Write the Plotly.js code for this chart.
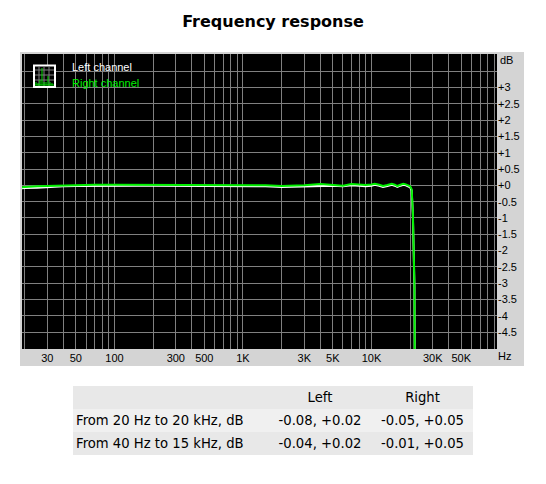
<!DOCTYPE html>
<html>
<head>
<meta charset="utf-8">
<script src="https://cdn.plot.ly/plotly-3.0.1.min.js"></script>
<style>
html,body{margin:0;padding:0;background:#fff;overflow:hidden}
#chart{position:absolute;left:0;top:0;width:546px;height:484px}
#stats{position:absolute;left:73px;top:386px;width:400px;border-collapse:collapse;table-layout:fixed;font:13.2px "DejaVu Sans",sans-serif;color:#000}
#stats td,#stats th{height:23px;padding:0;font-weight:normal;text-align:center;white-space:nowrap}
#stats td:first-child,#stats th:first-child{text-align:left;padding-left:3px}
</style>
</head>
<body>
<div id="chart"></div>
<table id="stats"></table>
<script>
var freq = [19,20,25,30,40,50,70,100,150,200,300,500,700,1000,1500,2000,3000,4000,5000,6000,7000,8000,9000,10000,10600,11500,12300,13300,14400,15200,15900,16800,17700,18500,19300,20000,20560,21000,21600,22000,22500];
var leftDb = [-0.09,-0.08,-0.07,-0.05,-0.03,-0.02,-0.01,-0.01,-0.01,-0.01,-0.01,-0.01,-0.02,-0.02,-0.03,-0.05,-0.03,0.0,-0.01,-0.03,0.0,-0.01,-0.03,-0.01,0.02,-0.01,-0.05,-0.02,0.02,-0.01,-0.05,-0.01,0.02,0.0,-0.03,-0.06,-0.16,-0.9,-3.1,-5.2,-20];
var rightDb = [-0.06,-0.05,-0.03,-0.02,0.0,0.01,0.02,0.02,0.02,0.02,0.02,0.02,0.01,0.01,0.0,-0.02,0.0,0.04,0.02,-0.01,0.04,0.03,0.01,0.03,0.05,0.02,-0.02,0.01,0.05,0.02,-0.02,0.02,0.05,0.03,0.0,-0.03,-0.12,-0.8,-3.0,-5.0,-20];

var xGridVals = [20,30,40,50,60,70,80,90,100,200,300,400,500,600,700,800,900,1000,2000,3000,4000,5000,6000,7000,8000,9000,10000,20000,30000,40000,50000,60000,70000,80000,90000];
var xGridText = ['','30','','50','','','','','100','','300','','500','','','','','1K','','3K','','5K','','','','','10K','','30K','','50K','','','',''];
var yGridVals = [3.5,3,2.5,2,1.5,1,0.5,0,-0.5,-1,-1.5,-2,-2.5,-3,-3.5,-4,-4.5];
var yGridText = ['','+3','+2.5','+2','+1.5','+1','+0.5','+0','-0.5','-1','-1.5','-2','-2.5','-3','-3.5','-4','-4.5'];

var tableHead = ['','Left','Right'];
var rowLabels = ['From 20 Hz to 20 kHz, dB','From 40 Hz to 15 kHz, dB'];
var leftRange = ['-0.08, +0.02','-0.04, +0.02'];
var rightRange = ['-0.05, +0.05','-0.01, +0.05'];

var W = 546, H = 484;
function px(x){return x/W;}
function py(y){return 1-y/H;}
function rect(x0,y0,x1,y1,fill,line,layer){
  return {type:'rect',xref:'paper',yref:'paper',x0:px(x0),x1:px(x1),y0:py(y0),y1:py(y1),
    fillcolor:fill,line:{color:line||fill,width:line?2:0},layer:layer||'above'};
}
function seg(x0,y0,x1,y1,c,w){
  return {type:'line',xref:'paper',yref:'paper',x0:px(x0),x1:px(x1),y0:py(y0),y1:py(y1),line:{color:c,width:w||1},layer:'above'};
}
var shapes = [rect(20,52,524,366,'#d4d4d4',null,'below'),rect(22,54,497,349,'#000000',null,'below')];
// legend icon
shapes.push(rect(34,65.5,55,87,'#000000','#ffffff'));
[39,44,49].forEach(function(x){shapes.push(seg(x,66,x,86,'#808080'));});
[70,75,80].forEach(function(y){shapes.push(seg(35,y,54,y,'#808080'));});
[[36,82],[38,83],[40,80],[42,68],[44,82],[46,82],[48,76],[50,82],[52,83]].forEach(function(p){shapes.push(seg(p[0],85,p[0],p[1],'#00e000'));});
shapes.push(seg(35,85,54,85,'#00e000'));

function label(text,x,y,color,anchor){
  return {text:text,xref:'paper',yref:'paper',x:px(x),y:py(y),xanchor:anchor||'left',yanchor:'middle',showarrow:false,
    font:{family:'"Liberation Sans",sans-serif',size:11,color:color||'#000000'}};
}

var traces = [
  {x:freq,y:leftDb,name:'Left channel',mode:'lines',line:{color:'#ffffff',width:2},hoverinfo:'skip'},
  {x:freq,y:rightDb,name:'Right channel',mode:'lines',line:{color:'#00f000',width:2},hoverinfo:'skip'}
];
var tickFont = {family:'"Liberation Sans",sans-serif',size:11,color:'#000000'};
var layout = {
  width:W,height:H,margin:{l:0,r:0,t:0,b:0},showlegend:false,
  paper_bgcolor:'#ffffff',plot_bgcolor:'#000000',
  title:{text:'<b>Frequency response</b>',x:273/W,xanchor:'center',y:py(21),yanchor:'middle',xref:'paper',yref:'paper',
    font:{family:'"DejaVu Sans",sans-serif',size:16,color:'#000000'}},
  xaxis:{type:'log',domain:[px(22),px(497)],range:[Math.log10(19.05),Math.log10(94900)],
    tickmode:'array',tickvals:xGridVals,ticktext:xGridText,tickangle:0,ticks:'',showgrid:true,gridcolor:'#808080',gridwidth:1,
    zeroline:false,showline:false,tickfont:tickFont,anchor:'y',ticklabelstandoff:1},
  yaxis:{side:'right',domain:[py(349),py(54)],range:[-5.02,4.03],
    tickmode:'array',tickvals:yGridVals,ticktext:yGridText,ticks:'',showgrid:true,gridcolor:'#808080',gridwidth:1,
    zeroline:false,showline:false,tickfont:tickFont,anchor:'x',ticklabelstandoff:0},
  shapes:shapes,
  annotations:[
    label('Left channel',70,67,'#ffffff'),
    label('Right channel',70,83,'#00f000'),
    label('dB',498,60),
    label('Hz',496,356)
  ]
};
Plotly.newPlot('chart',traces,layout,{displayModeBar:false,staticPlot:true});

var colors = ['#e8e8e8','#f0f0f0','#e8e8e8'];
var widths = [195,104,101];
var html = '<colgroup>'+widths.map(function(w){return '<col style="width:'+w+'px">';}).join('')+'</colgroup>';
html += '<tr style="background:'+colors[0]+'">'+tableHead.map(function(t){return '<th>'+t+'</th>';}).join('')+'</tr>';
rowLabels.forEach(function(r,i){
  html += '<tr style="background:'+colors[i+1]+'"><td>'+r+'</td><td>'+leftRange[i]+'</td><td>'+rightRange[i]+'</td></tr>';
});
document.getElementById('stats').innerHTML = html;
</script>
</body>
</html>
